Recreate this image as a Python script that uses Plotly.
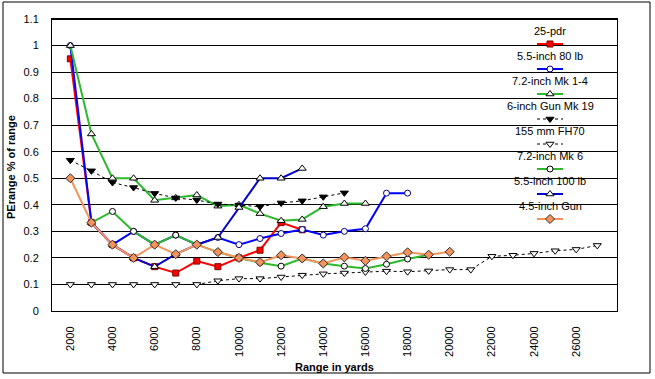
import plotly.graph_objects as go

# ---------------- data ----------------
ranges = [2000 + 1000 * i for i in range(26)]  # 2000 .. 27000 yards

pdr25 = [0.95, 0.333, 0.25, 0.2, 0.167, 0.143, 0.188, 0.167, 0.2, 0.229, 0.333, 0.306]
in55_80 = [1.0, 0.333, 0.25, 0.3, 0.25, 0.286, 0.25, 0.277, 0.25, 0.273, 0.292, 0.307,
           0.286, 0.3, 0.31, 0.444, 0.444]
mk14 = [1.0, 0.667, 0.5, 0.5, 0.417, 0.426, 0.437, 0.395, 0.4, 0.367, 0.34, 0.345,
        0.393, 0.405, 0.405]
gun6 = [0.568, 0.528, 0.484, 0.465, 0.443, 0.426, 0.418, 0.403, 0.399, 0.393, 0.407,
        0.415, 0.43, 0.445]
fh70 = [0.1, 0.1, 0.1, 0.1, 0.1, 0.1, 0.1, 0.114, 0.122, 0.122, 0.128, 0.135, 0.14,
        0.143, 0.147, 0.15, 0.148, 0.151, 0.156, 0.156, 0.206, 0.21, 0.217, 0.227,
        0.232, 0.247]
mk6 = [None, 0.333, 0.375, 0.3, 0.25, 0.286, 0.25, 0.222, 0.2, 0.182, 0.169, 0.198,
       0.179, 0.169, 0.16, 0.176, 0.196, 0.212]
in55_100 = [None, 0.333, 0.25, 0.2, 0.167, 0.214, 0.25, 0.277, 0.39, 0.5, 0.5, 0.537]
gun45 = [0.5, 0.333, 0.25, 0.2, 0.25, 0.214, 0.25, 0.222, 0.2, 0.184, 0.21, 0.198,
         0.179, 0.202, 0.189, 0.206, 0.221, 0.212, 0.223]

x_ticks = list(range(2000, 27000, 2000))
y_ticks = [round(0.1 * i, 1) for i in range(12)]

FONT = "Arial, Liberation Sans, sans-serif"

series = [
    dict(name="25-pdr", y=pdr25, color="#FF0000", width=2, dash="solid",
         symbol="square", size=6, mfill="#FF0000", mline="#800000"),
    dict(name="5.5-inch 80 lb", y=in55_80, color="#0000FF", width=2, dash="solid",
         symbol="circle", size=6, mfill="white", mline="#000080"),
    dict(name="7.2-inch Mk 1-4", y=mk14, color="#2DB82D", width=2, dash="solid",
         symbol="triangle-up", size=7, mfill="white", mline="black"),
    dict(name="6-inch Gun Mk 19", y=gun6, color="black", width=1, dash="3px,3px",
         symbol="triangle-down", size=7, mfill="black", mline="black"),
    dict(name="155 mm FH70", y=fh70, color="black", width=1, dash="3px,3px",
         symbol="triangle-down", size=7, mfill="white", mline="black"),
    dict(name="7.2-inch Mk 6", y=mk6, color="#2DB82D", width=2, dash="solid",
         symbol="circle", size=6, mfill="white", mline="black"),
    dict(name="5.5-inch 100 lb", y=in55_100, color="#0000CC", width=2, dash="solid",
         symbol="triangle-up", size=7, mfill="white", mline="black"),
    dict(name="4.5-inch Gun", y=gun45, color="#F4945C", width=2, dash="solid",
         symbol="diamond", size=7, mfill="#F4945C", mline="#303030"),
]

fig = go.Figure()

for s in series:
    n = len(s["y"])
    fig.add_trace(go.Scatter(
        x=ranges[:n], y=s["y"], mode="lines+markers", name=s["name"],
        showlegend=False, connectgaps=False,
        line=dict(color=s["color"], width=s["width"], dash=s["dash"]),
        marker=dict(symbol=s["symbol"], size=s["size"], color=s["mfill"],
                    line=dict(color=s["mline"], width=1)),
        xaxis="x", yaxis="y",
    ))

# ---- custom legend (text above sample line, as in the original) ----
L_X0, L_X1, L_XC = 537, 563, 550
annotations = []
for i, s in enumerate(series):
    ly = 44 + 25 * i
    fig.add_trace(go.Scatter(
        x=[L_X0, L_XC, L_X1], y=[ly, ly, ly], mode="lines",
        showlegend=False, hoverinfo="skip",
        line=dict(color=s["color"], width=s["width"], dash=s["dash"]),
        xaxis="x2", yaxis="y2",
    ))
    fig.add_trace(go.Scatter(
        x=[L_XC], y=[ly], mode="markers", showlegend=False, hoverinfo="skip",
        marker=dict(symbol=s["symbol"], size=s["size"], color=s["mfill"],
                    line=dict(color=s["mline"], width=1)),
        xaxis="x2", yaxis="y2",
    ))
    annotations.append(dict(
        x=L_XC, y=ly - 13, xref="x2", yref="y2", text=s["name"], showarrow=False,
        font=dict(family=FONT, size=11, color="black"), xanchor="center", yanchor="middle",
    ))

# axis titles
annotations.append(dict(
    x=0.5, y=(311 - 367) / 292, xref="paper", yref="paper", text="<b>Range in yards</b>",
    showarrow=False, font=dict(family=FONT, size=11, color="black"),
    xanchor="center", yanchor="middle"))
annotations.append(dict(
    x=(11 - 52) / 565, y=(311 - 167) / 292, xref="paper", yref="paper",
    text="<b>PErange % of range</b>", textangle=-90, showarrow=False,
    font=dict(family=FONT, size=11, color="black"), xanchor="center", yanchor="middle"))

shapes = [
    # outer chart-area border
    dict(type="rect", xref="paper", yref="paper",
         x0=(3 - 52) / 565, x1=(650 - 52) / 565, y0=(311 - 373) / 292, y1=(311 - 2) / 292,
         line=dict(color="black", width=1), fillcolor="rgba(0,0,0,0)", layer="below"),
    # heavier top edge of the plot area
    dict(type="line", xref="paper", yref="paper", x0=0, x1=1, y0=1, y1=1,
         line=dict(color="black", width=2)),
]

fig.update_layout(
    width=655, height=379,
    margin=dict(l=52, r=38, t=19, b=68),
    paper_bgcolor="white", plot_bgcolor="white",
    font=dict(family=FONT, size=11, color="black"),
    showlegend=False,
    xaxis=dict(
        range=[1130, 27935], tickmode="array", tickvals=x_ticks,
        ticktext=[str(v) for v in x_ticks], tickangle=-90,
        showgrid=False, zeroline=False, showline=True, linecolor="black", linewidth=1,
        mirror=True, ticks="", ticklabelstandoff=10,
        tickfont=dict(family=FONT, size=11, color="black"),
    ),
    yaxis=dict(
        range=[0, 1.1], tickmode="array", tickvals=y_ticks,
        ticktext=[("%g" % v) for v in y_ticks],
        showgrid=True, gridcolor="black", gridwidth=1, zeroline=False,
        showline=True, linecolor="black", linewidth=1, mirror=True, ticks="",
        ticklabelstandoff=10, tickfont=dict(family=FONT, size=11, color="black"),
    ),
    xaxis2=dict(range=[52, 617], overlaying="x", visible=False, fixedrange=True),
    yaxis2=dict(range=[311, 19], overlaying="y", visible=False, fixedrange=True),
    annotations=annotations,
    shapes=shapes,
)

fig.write_html(
    "out.html",
    config={"displayModeBar": False},
    post_script="document.body.style.margin='0px';document.body.style.overflow='hidden';",
)
